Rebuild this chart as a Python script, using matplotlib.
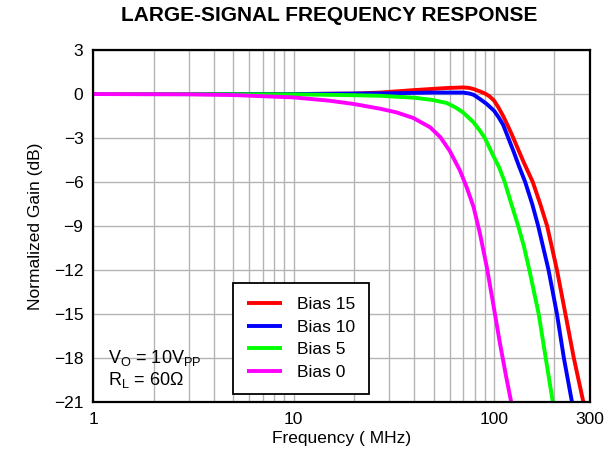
import matplotlib
matplotlib.use("Agg")
import matplotlib.pyplot as plt
from matplotlib.ticker import FixedLocator, NullFormatter

plt.rcParams["font.family"] = ["Liberation Sans", "DejaVu Sans"]
plt.rcParams["mathtext.default"] = "regular"

# frequency (MHz) / normalized gain (dB)
freq_b15 = [1, 10, 20, 27, 40, 58, 70, 75, 79, 85, 90, 95, 100, 105, 111, 117, 123, 140, 156, 170, 184, 206, 227, 250, 282]
gain_b15 = [0, 0, 0.03, 0.1, 0.27, 0.41, 0.45, 0.42, 0.34, 0.18, 0.04, -0.16, -0.45, -0.9, -1.5, -2.15, -2.8, -4.6, -6.0, -7.5, -9.0, -12.0, -15.0, -18.0, -21.3]

freq_b10 = [1, 10, 30, 50, 70, 75, 79, 85, 92, 100, 105, 111, 117, 125, 133, 143, 155, 166, 187, 206, 223, 247]
gain_b10 = [0, 0, 0.05, 0.1, 0.1, 0.04, -0.05, -0.34, -0.68, -1.14, -1.55, -2.1, -2.9, -3.9, -4.9, -6.0, -7.5, -9.0, -12.0, -15.0, -18.0, -21.3]

freq_b5 = [1, 10, 20, 27, 40, 49, 58, 64, 70, 79, 85, 90, 99, 106, 113, 122, 132, 141, 150, 167, 181, 198]
gain_b5 = [0, -0.02, -0.08, -0.12, -0.25, -0.4, -0.61, -0.9, -1.25, -1.93, -2.5, -3.0, -4.2, -5.0, -6.0, -7.5, -9.0, -10.4, -12.0, -15.0, -18.0, -21.3]

freq_b0 = [1, 3, 5, 10, 15, 20, 27, 32.6, 39.5, 48, 54, 60, 67.5, 73, 79, 85, 92, 99, 107, 115, 123]
gain_b0 = [0, -0.02, -0.07, -0.23, -0.45, -0.68, -1.0, -1.25, -1.63, -2.27, -2.95, -3.86, -5.2, -6.35, -7.7, -9.5, -11.8, -14.3, -17.0, -19.3, -21.3]

series = [
    ("Bias 15", freq_b15, gain_b15, "#ff0000"),
    ("Bias 10", freq_b10, gain_b10, "#0000ff"),
    ("Bias 5", freq_b5, gain_b5, "#00ff00"),
    ("Bias 0", freq_b0, gain_b0, "#ff00ff"),
]

x_ticks = [1, 10, 100, 300]
x_minor = [2, 3, 4, 5, 6, 7, 8, 9, 20, 30, 40, 50, 60, 70, 80, 90, 200]
y_ticks = list(range(3, -22, -3))

fig = plt.figure(figsize=(6.13, 4.59), dpi=100)
ax = fig.add_axes([0.152, 0.124, 0.810, 0.767])

for name, f, g, c in series:
    ax.plot(f, g, color=c, lw=2.8, label=name, solid_capstyle="butt", solid_joinstyle="round")

ax.set_xscale("log")
ax.set_xlim(1, 300)
ax.set_ylim(-21, 3)
ax.xaxis.set_major_locator(FixedLocator(x_ticks))
ax.xaxis.set_minor_locator(FixedLocator(x_minor))
ax.xaxis.set_minor_formatter(NullFormatter())
ax.set_xticklabels([str(t) for t in x_ticks])
ax.set_yticks(y_ticks)
ax.tick_params(which="both", length=0, labelsize=12.5, pad=7)
ax.grid(which="both", color="#b4b4b4", lw=1)
for s in ax.spines.values():
    s.set_linewidth(1.6)

ax.set_xlabel("Frequency ( MHz)", fontsize=12.5, labelpad=3)
ax.set_ylabel("Normalized Gain (dB)", fontsize=12.5, labelpad=8)
fig.text(0.5375, 0.966, "LARGE-SIGNAL FREQUENCY RESPONSE", ha="center", va="center",
         fontsize=15, fontweight="bold")

leg = ax.legend(loc="lower left", bbox_to_anchor=(0.282, 0.023), fontsize=12.5,
                fancybox=False, edgecolor="black", framealpha=1, handlelength=2.0,
                labelspacing=0.43, borderpad=0.8, handletextpad=0.85, borderaxespad=0)
leg.get_frame().set_linewidth(1.3)

ax.text(0.03, 0.125, "V$_O$ = 10V$_{PP}$", transform=ax.transAxes, fontsize=13, va="center")
ax.text(0.03, 0.062, "R$_L$ = 60Ω", transform=ax.transAxes, fontsize=13, va="center")

fig.savefig("out.png", dpi=100)
